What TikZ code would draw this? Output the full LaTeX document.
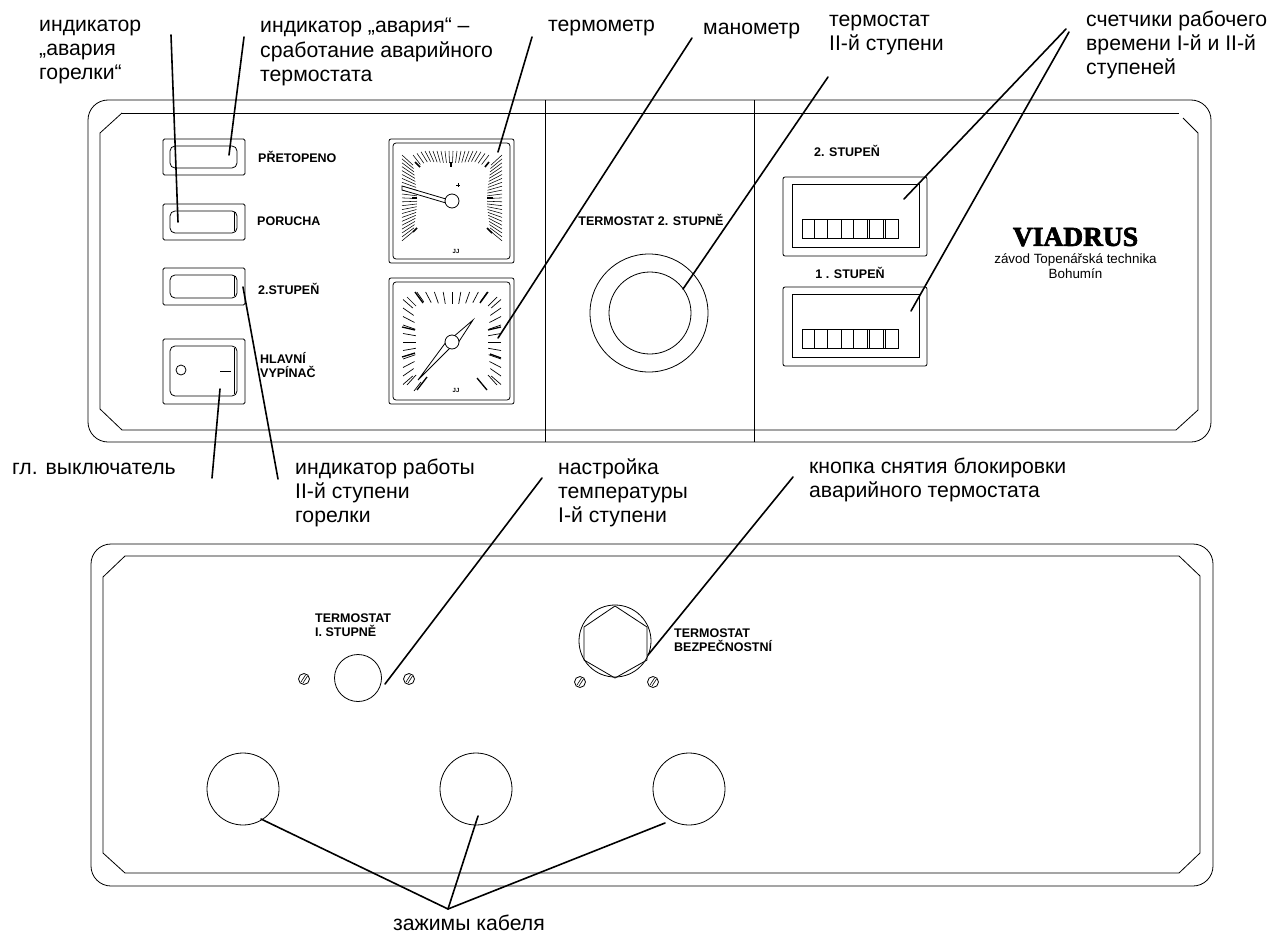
\documentclass[tikz,border=0pt]{standalone}
\usepackage{fontspec}
\setmainfont{Liberation Sans}
\newfontfamily\serifbold{Liberation Serif}[BoldFeatures={FakeBold=2.5}]
\tikzset{
 x=1pt,y=-1pt,
 fine/.style={line width=0.8pt,black},
 leader/.style={line width=1.6pt,black,line cap=round},
 lbl/.style={anchor=west,inner sep=0pt,font=\fontsize{21.2}{24.3}\selectfont,align=left},
 plbl/.style={anchor=west,inner sep=0pt,font=\fontsize{12.5}{14.5}\selectfont\bfseries,align=left}
}
\begin{document}
\begin{tikzpicture}
\useasboundingbox (0,0) rectangle (1269,934);
% upper panel
\draw[fine,rounded corners=20pt] (88,100) rectangle (1211,442);
\draw[fine] (122,113)--(1179,113);
\draw[fine] (1183,118)--(1198,133)--(1198,410)--(1176,430)--(122,430)--(100,409)--(100,133)--(122,113);
\draw[fine] (545,100)--(545,442) (754,100)--(754,442);
% buttons
\foreach \y/\h in {139/36,204/36,268/37}{
 \draw[fine,rounded corners=1.5pt] (163,\y) rectangle (245,\y+\h);
 \draw[fine,rounded corners=5pt] (170,\y+7) rectangle (237,\y+\h-7);
}
\draw[fine] (234,212)--(234,231) (234,276)--(234,296);
\draw[fine,rounded corners=1.5pt] (163,339) rectangle (245,404);
\draw[fine,rounded corners=5pt] (170,346) rectangle (237,396);
\draw[fine] (234,348)--(234,394);
\node[draw,fine,circle,minimum size=10pt,inner sep=0pt] (lamp) at (181,370) {};
\draw[fine] (220,371)--(231,371);
\node[plbl] at (258,157) {PŘETOPENO};
\node[plbl] at (257,221) {PORUCHA};
\node[plbl] at (258,289) {2.STUPEŇ};
\node[plbl,font=\fontsize{12.5}{14}\selectfont\bfseries] at (260,365) {HLAVNÍ\\VYPÍNAČ};
% gauges
\foreach \y/\h in {139/124,278/126}{
 \draw[fine,rounded corners=2pt] (389,\y) rectangle (514,\y+\h);
 \draw[fine,rounded corners=3pt] (393,\y+4) rectangle (510,\y+\h-4);
}
% thermometer ticks
\begin{scope}[line width=0.55pt]
\foreach \s in {-38,-34,...,38}{
 \pgfmathsetmacro\d{veclen(\s,49)}
 \pgfmathsetmacro\yo{151+max(0,abs(\s)-28)*0.4}
 \draw ({451+\s},\yo) -- ({451+\s-\s/\d*12},{\yo+49/\d*12});
}
\foreach \s in {-45,-41.1,...,43}{
 \pgfmathsetmacro\d{veclen(\s,49)}
 \draw (402,{200+\s}) -- ({402+49/\d*15},{200+\s-\s/\d*15});
 \draw (502,{200+\s}) -- ({502-49/\d*15},{200+\s-\s/\d*15});
}
\end{scope}
\foreach \a/\b/\c/\d in {415/162/420/167, 451/162/451/167, 489/162/485/167, 412/198/417/198, 487/198/493/198, 413/232/417/228, 492/233/487/228}
 \draw[line width=1.6pt] (\a,\b)--(\c,\d);
\draw[fine,fill=white] (402,186)--(446,199)--(446,203)--(402,190)--cycle;
\node[draw,fine,fill=white,circle,minimum size=14pt,inner sep=0pt] (tk) at (452,201) {};
\draw[line width=.6pt] (456,185)--(460,185) (458,183)--(458,187);
\node[inner sep=0pt,font=\fontsize{6}{6}\selectfont\bfseries] at (456,251) {JJ};
% manometer ticks
\begin{scope}[line width=0.7pt]
\foreach \s in {-35.2,-26.4,...,36}{
 \pgfmathsetmacro\d{veclen(\s,50)}
 \draw ({452+\s},292) -- ({452+\s-\s/\d*12},{292+50/\d*12});
}
\foreach \s in {-42.5,-34,...,43}{
 \pgfmathsetmacro\d{veclen(\s,49)}
 \draw (403,{342+\s}) -- ({403+49/\d*13},{342+\s-\s/\d*13});
 \draw (501,{342+\s}) -- ({501-49/\d*13},{342+\s-\s/\d*13});
}
\draw (407,385)--(416,375) (414,391)--(421,382) (497,385)--(488,375);
\draw (407,297)--(416,306) (497,297)--(488,306);
\end{scope}
\draw[line width=1.3pt] (415,292)--(423,303) (488,292)--(480,303) (402,327)--(415,330) (501,327)--(488,330) (402,357)--(415,353) (501,358)--(490,354) (417,390)--(427,377) (477,378)--(487,390);
\draw[fine,fill=white] (418,380)--(449,338)--(454,344)--cycle;
\draw[fine,fill=white] (473,320)--(452,338)--(458,343)--cycle;
\node[draw,fine,fill=white,circle,minimum size=14pt,inner sep=0pt] (mk) at (452,342) {};
\node[inner sep=0pt,font=\fontsize{6}{6}\selectfont\bfseries] at (456,390) {JJ};
% thermostat 2
\node[plbl,anchor=center] at (651,220) {TERMOSTAT 2. STUPNĚ};
\node[draw,fine,circle,minimum size=118pt,inner sep=0pt] (t2o) at (649,313) {};
\node[draw,fine,circle,minimum size=82pt,inner sep=0pt] (t2i) at (650,313) {};
% counters
\foreach \y in {177,287}{
 \draw[fine,rounded corners=2pt] (783,\y) rectangle (927,\y+79);
 \draw[fine] (792,\y+7) rectangle (919,\y+70);
 \draw[fine] (802,\y+42) rectangle (898,\y+61);
 \foreach \x in {814,827,841,853,867,869,883,885}
  \draw[fine] (\x,\y+42)--(\x,\y+61);
}
\node[plbl,anchor=center] at (847,151) {2. STUPEŇ};
\node[plbl,anchor=center] at (850,273) {1 . STUPEŇ};
\node[anchor=center,inner sep=0pt,font=\fontsize{27.5}{27.5}\selectfont\serifbold\bfseries] at (1075.5,237) {VIADRUS};
\node[anchor=center,inner sep=0pt,align=center,font=\fontsize{13.4}{15}\selectfont] at (1075.5,266.5) {závod Topenářská technika\\Bohumín};
% lower panel
\draw[fine,rounded corners=20pt] (91,544) rectangle (1213,886);
\draw[fine] (125,556)--(1179,556)--(1200,576)--(1200,853)--(1179,873)--(125,873)--(103,853)--(103,577)--cycle;
\node[plbl] at (315,625) {TERMOSTAT\\I. STUPNĚ};
\node[plbl] at (674,640) {TERMOSTAT\\BEZPEČNOSTNÍ};
\node[draw,fine,circle,minimum size=47pt,inner sep=0pt] (k1) at (358,678) {};
\node[draw,fine,circle,minimum size=72pt,inner sep=0pt] (k2) at (615,641) {};
\draw[fine] (615,606)--(647,627)--(647,660)--(615,678)--(584,660)--(584,627)--cycle;
\foreach \n/\x/\y in {s1/304/679,s2/409/679,s3/580/682,s4/653/682}{
 \node[draw,fine,circle,minimum size=11pt,inner sep=0pt] (\n) at (\x,\y) {};
 \draw[line width=.6pt] (\x-3,\y+3)--(\x+1.5,\y-4) (\x-1,\y+4)--(\x+3.5,\y-3);
}
\node[draw,fine,circle,minimum size=72pt,inner sep=0pt] (c1) at (243,789) {};
\node[draw,fine,circle,minimum size=72pt,inner sep=0pt] (c2) at (476,789) {};
\node[draw,fine,circle,minimum size=72pt,inner sep=0pt] (c3) at (689,789) {};
% leader anchors
\coordinate (a1) at (171,35);\coordinate (b1) at (178,222);
\coordinate (a2) at (244,37);\coordinate (b2) at (229,155);
\coordinate (a3) at (532,37);\coordinate (b3) at (498,152);
\coordinate (a4) at (692,38);\coordinate (b4) at (498,338);
\coordinate (a5) at (828,77);\coordinate (b5) at (683,289);
\coordinate (a6) at (1066,29);\coordinate (b6) at (904,199);
\coordinate (a7) at (1069,32);\coordinate (b7) at (911,311);
\coordinate (a8) at (212,478);\coordinate (b8) at (220,389);
\coordinate (a9) at (278,479);\coordinate (b9) at (243,287);
\coordinate (a10) at (542,478);\coordinate (b10) at (385,684);
\coordinate (a11) at (793,477);\coordinate (b11) at (648,655);
\coordinate (a12) at (448,909);\coordinate (b12) at (261,819);\coordinate (b13) at (478,816);\coordinate (b14) at (665,823);
\foreach \p/\q in {a1/b1,a2/b2,a3/b3,a4/b4,a5/b5,a6/b6,a7/b7,a8/b8,a9/b9,a10/b10,a11/b11,a12/b12,a12/b13,a12/b14}
 \draw[leader] (\p)--(\q);
% labels
\node[lbl] at (39,52) {индикатор\\„авария\\горелки“};
\node[lbl] at (260,52) {индикатор „авария“ –\\сработание аварийного\\термостата};
\node[lbl] at (548,28) {термометр};
\node[lbl] at (703,31) {манометр};
\node[lbl] at (829,35) {термостат\\II-й ступени};
\node[lbl] at (1086,45) {счетчики рабочего\\времени I-й и II-й\\ступеней};
\node[lbl] at (12,469) {гл. выключатель};
\node[lbl] at (295,493) {индикатор работы\\II-й ступени\\горелки};
\node[lbl] at (558,493) {настройка\\температуры\\I-й ступени};
\node[lbl] at (809,480) {кнопка снятия блокировки\\аварийного термостата};
\node[lbl] at (393,923) {зажимы кабеля};
\end{tikzpicture}
\end{document}
